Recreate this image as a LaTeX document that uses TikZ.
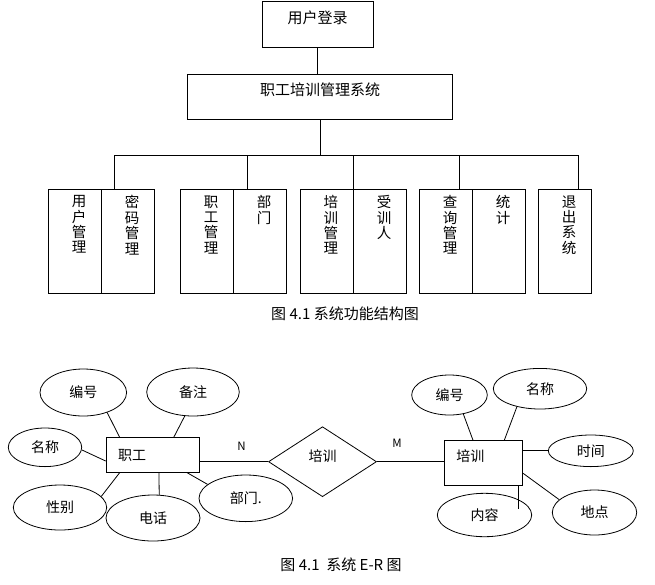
\documentclass[tikz,border=0pt]{standalone}
\usepackage{fontspec}
\setmainfont{Noto Sans CJK SC}
\usetikzlibrary{shapes.geometric}
\usetikzlibrary{positioning}
\tikzset{
    boxn/.style = {rectangle, draw=black, line width=0.8pt, inner sep=0pt, font=\fontsize{15pt}{16pt}\selectfont, text depth=15pt},
    coln/.style = {rectangle, draw=black, line width=0.8pt, anchor=north west, inner sep=0pt, minimum width=53pt, minimum height=104pt},
    vtxt/.style = {align=center, inner sep=0pt, xshift=4pt, font=\fontsize{14.5pt}{15.4pt}\selectfont},
    entn/.style = {rectangle, draw=black, line width=0.8pt, inner xsep=12pt, inner ysep=0pt, align=left, font=\fontsize{14pt}{15pt}\selectfont},
    attn/.style = {ellipse, draw=black, line width=0.8pt, inner sep=0pt, font=\fontsize{14pt}{15pt}\selectfont},
    reln/.style = {diamond, draw=black, line width=0.8pt, inner sep=0pt, minimum width=108pt, minimum height=70pt, text depth=13pt, font=\fontsize{14pt}{15pt}\selectfont},
    capn/.style = {inner sep=0pt, font=\fontsize{15pt}{16pt}\selectfont},
    lbln/.style = {font=\fontsize{11.5pt}{13pt}\selectfont},
    edgen/.style = {-, line width=0.8pt, black}
}
\begin{document}
\begin{tikzpicture}[x=1pt,y=-1pt]
\useasboundingbox (0,0) rectangle (655,584);
% function structure
\node[boxn, minimum width=111pt, minimum height=45.6pt] at (317.5, 24.5) (login) {用户登录};
\node[boxn, minimum width=265.4pt, minimum height=45pt] at (320.0, 96.5) (sys) {职工培训管理系统};
\node[coln] at (48.3, 189.3) (yhgl) {};
\node[coln] at (101.3, 189.3) (mmgl) {};
\node[coln] at (180.3, 189.3) (zggl) {};
\node[coln] at (233.3, 189.3) (bmgl) {};
\node[coln] at (300.0, 189.3) (pxgl) {};
\node[coln] at (353.3, 189.3) (srr) {};
\node[coln] at (419.3, 189.3) (cxgl) {};
\node[coln] at (472.3, 189.3) (tj) {};
\node[coln] at (538.3, 189.3) (tcxt) {};
\node[vtxt, below=6pt of yhgl.north] (yhglt) {用\\户\\管\\理};
\node[vtxt, below=6pt of mmgl.north] (mmglt) {密\\码\\管\\理};
\node[vtxt, below=6pt of zggl.north] (zgglt) {职\\工\\管\\理};
\node[vtxt, below=6pt of bmgl.north] (bmglt) {部\\门};
\node[vtxt, below=6pt of pxgl.north] (pxglt) {培\\训\\管\\理};
\node[vtxt, below=6pt of srr.north] (srrt) {受\\训\\人};
\node[vtxt, below=6pt of cxgl.north] (cxglt) {查\\询\\管\\理};
\node[vtxt, below=6pt of tj.north] (tjt) {统\\计};
\node[vtxt, below=6pt of tcxt.north] (tcxtt) {退\\出\\系\\统};
\coordinate (b1) at (114.7, 155);
\coordinate (b2) at (247.3, 155);
\coordinate (b3) at (353.3, 155);
\coordinate (b4) at (459.3, 155);
\coordinate (b5) at (578.3, 155);
%
\draw[edgen] (login.south) -- (login.south |- sys.north);
\draw[edgen] (sys.south) -- (sys.south |- b1);
\draw[edgen] (b1) -- (b5);
\draw[edgen] (b1) -- (b1 |- mmgl.north);
\draw[edgen] (b2) -- (b2 |- bmgl.north);
\draw[edgen] (b3) -- (b3 |- srr.north);
\draw[edgen] (b4) -- (b4 |- cxgl.north);
\draw[edgen] (b5) -- (b5 |- tcxt.north);
\node[capn] at (345, 314) (cap1) {图 4.1 系统功能结构图};
% E-R diagram
\node[entn, text width=69.3pt, minimum height=34.6pt] at (152.7, 455.0) (zg) {职工};
\node[entn, text width=54.4pt, minimum height=44.7pt, text depth=15pt] at (483.5, 462.7) (pxs) {培训};
\node[reln] at (322.5, 461.7) (pxr) {培训};
\node[attn, minimum width=86.6pt, minimum height=47pt] at (83.3, 392.5) (zgbh) {编号};
\node[attn, minimum width=92.6pt, minimum height=48pt] at (193.0, 392.0) (zgbz) {备注};
\node[attn, minimum width=73.4pt, minimum height=38.6pt] at (45.0, 447.3) (zgmc) {名称};
\node[attn, minimum width=93.4pt, minimum height=45pt] at (60.0, 507.5) (zgxb) {性别};
\node[attn, minimum width=94pt, minimum height=46pt] at (153.0, 518.0) (zgdh) {电话};
\node[attn, minimum width=93.6pt, minimum height=46.6pt] at (245.8, 498.3) (zgbm) {部门.};
\node[attn, minimum width=75.6pt, minimum height=40pt] at (449.5, 395.0) (pxbh) {编号};
\node[attn, minimum width=93.4pt, minimum height=40.6pt] at (540.0, 388.7) (pxmc) {名称};
\node[attn, minimum width=85pt, minimum height=31.6pt] at (590.8, 450.8) (pxsj) {时间};
\node[attn, minimum width=84.4pt, minimum height=45pt] at (594.5, 512.5) (pxdd) {地点};
\node[attn, minimum width=94.4pt, minimum height=43.4pt] at (484.5, 515.0) (pxnr) {内容};
%
\draw[edgen] (zg.east |- pxr.west) -- node[lbln, pos=0.61, above=7.5pt] {N} (pxr.west);
\draw[edgen] (pxr.east) -- node[lbln, pos=0.3, above=10pt] {M} (pxr.east -| pxs.west);
\draw[edgen] (zgbh.-40) -- ([xshift=14pt]zg.north west);
\draw[edgen] (zgbz.-109) -- ([xshift=-26pt]zg.north east);
\draw[edgen] (zgmc.-4) -- ([yshift=-6pt]zg.west);
\draw[edgen] (zgxb.15) -- ([xshift=14pt]zg.south west);
\draw[edgen] ([xshift=53.3pt]zg.south west) -- (zgdh.75);
\draw[edgen] (zgbm.160) -- ([xshift=-12.6pt]zg.south east);
\draw[edgen] (pxbh.-54) -- ([xshift=29pt]pxs.north west);
\draw[edgen] (pxmc.-142) -- ([xshift=-18.7pt]pxs.north east);
\draw[edgen] (pxs.east |- pxsj.west) -- (pxsj.west);
\draw[edgen] (pxdd.160) -- ([yshift=-10.6pt]pxs.east);
\draw[edgen] ([xshift=-4.4pt]pxs.south east) -- ++(0, 23.3);
\node[capn] at (341, 565) (cap2) {图 4.1\ \ 系统 E-R 图};
\end{tikzpicture}
\end{document}
